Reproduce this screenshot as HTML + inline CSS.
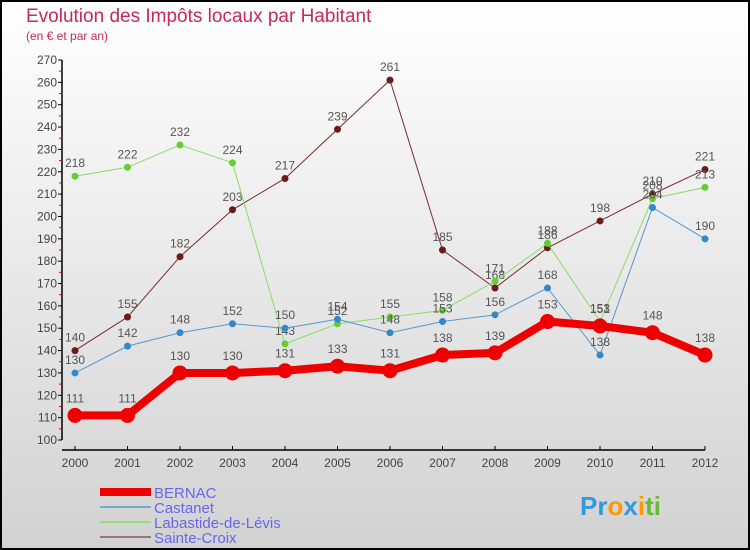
<!DOCTYPE html>
<html><head><meta charset="utf-8"><style>
html,body{margin:0;padding:0}
#c{width:750px;height:550px;position:relative;box-sizing:border-box;border:2px solid #000;background:linear-gradient(#fff,#d2d2d2);font-family:"Liberation Sans",sans-serif;overflow:hidden}
</style></head><body>
<div id="c">
<svg id="s" width="746" height="546" style="position:absolute;left:0;top:0"></svg>
</div>
<script>
const years=[2000,2001,2002,2003,2004,2005,2006,2007,2008,2009,2010,2011,2012];
const bernac=[111,111,130,130,131,133,131,138,139,153,151,148,138];
const castanet=[130,142,148,152,150,154,148,153,156,168,138,204,190];
const labastide=[218,222,232,224,143,152,155,158,171,188,153,208,213];
const sainteCroix=[140,155,182,203,217,239,261,185,168,186,198,210,221];
const yTicks=[100,110,120,130,140,150,160,170,180,190,200,210,220,230,240,250,260,270];
const names=["BERNAC","Castanet","Labastide-de-Lévis","Sainte-Croix"];
const NS="http://www.w3.org/2000/svg";
const svg=document.getElementById('s');
const ox=-2,oy=-2;
function X(i){return 75+i*52.5+ox}
function Y(v){return 440-(v-100)*380/170+oy}
function el(t,a,p){const e=document.createElementNS(NS,t);for(const k in a)e.setAttribute(k,a[k]);(p||svg).appendChild(e);return e}
let t=el('text',{x:26+ox,y:22+oy,'font-size':19,fill:'#c8285a'});t.textContent="Evolution des Impôts locaux par Habitant";

t=el('text',{x:26+ox,y:40+oy,'font-size':12,fill:'#c8285a'});t.textContent="(en € et par an)";

let a=el('line',{x1:62+ox,y1:Y(270),x2:62+ox,y2:Y(100),stroke:'#000','stroke-width':1.5});

a=el('line',{x1:62+ox,y1:450+oy,x2:X(12),y2:450+oy,stroke:'#000','stroke-width':1.5});

yTicks.forEach(v=>{
  el('line',{x1:58+ox,y1:Y(v),x2:62+ox,y2:Y(v),stroke:'#000'});
  if(v<270) el('line',{x1:59+ox,y1:Y(v+5),x2:62+ox,y2:Y(v+5),stroke:'#e00'});
  const l=el('text',{x:57+ox,y:Y(v)+4,'font-size':12,fill:'#444','text-anchor':'end'});l.textContent=v;
  
});
years.forEach((y,i)=>{
  el('line',{x1:X(i),y1:446+oy,x2:X(i),y2:450+oy,stroke:'#000'});
  const l=el('text',{x:X(i),y:467+oy,'font-size':12,fill:'#444','text-anchor':'middle'});l.textContent=y;
  
});
const series=[
 {d:sainteCroix,c:'#7a2a2a',f:'#6a1a1a',w:1,r:3.5,n:'sainte-croix'},
 {d:labastide,c:'#88dd66',f:'#66cc33',w:1,r:3.5,n:'labastide'},
 {d:castanet,c:'#5599cc',f:'#3388cc',w:1,r:3.5,n:'castanet'},
 {d:bernac,c:'#ee0000',f:'#ee0000',w:8,r:7.5,n:'bernac'}];
series.forEach(s=>{
  const g=el('g',{});
  
  const p=el('polyline',{points:s.d.map((v,i)=>X(i)+','+Y(v)).join(' '),fill:'none',stroke:s.c,'stroke-width':s.w,'stroke-linejoin':'round'},g);
  
  s.d.forEach((v,i)=>{
    const c=el('circle',{cx:X(i),cy:Y(v),r:s.r,fill:s.f},g);
    
    const l=el('text',{x:X(i),y:Y(v)-(s.w>2?13:9),'font-size':12,fill:'#555','text-anchor':'middle'},g);l.textContent=v;
    
  });
});
const lc=[['#ee0000',8],['#77aacc',2],['#99dd77',2],['#997777',2]];
names.forEach((n,i)=>{
  const y=492+i*15+oy;
  const ln=el('line',{x1:100+ox,y1:y,x2:151+ox,y2:y,stroke:lc[i][0],'stroke-width':lc[i][1]});
  
  const tx=el('text',{x:154+ox,y:y+6,'font-size':15,fill:'#6666ee'});tx.textContent=n;
  
});
const pr=el('text',{x:580+ox,y:515+oy,'font-size':26,'font-weight':'bold',fill:'#3399dd'});
pr.innerHTML='<tspan fill="#3399dd">Pr</tspan><tspan fill="#ff9900">o</tspan><tspan fill="#3399dd">x</tspan><tspan fill="#ff9900">i</tspan><tspan fill="#66bb33">ti</tspan>';

</script>
</body></html>
